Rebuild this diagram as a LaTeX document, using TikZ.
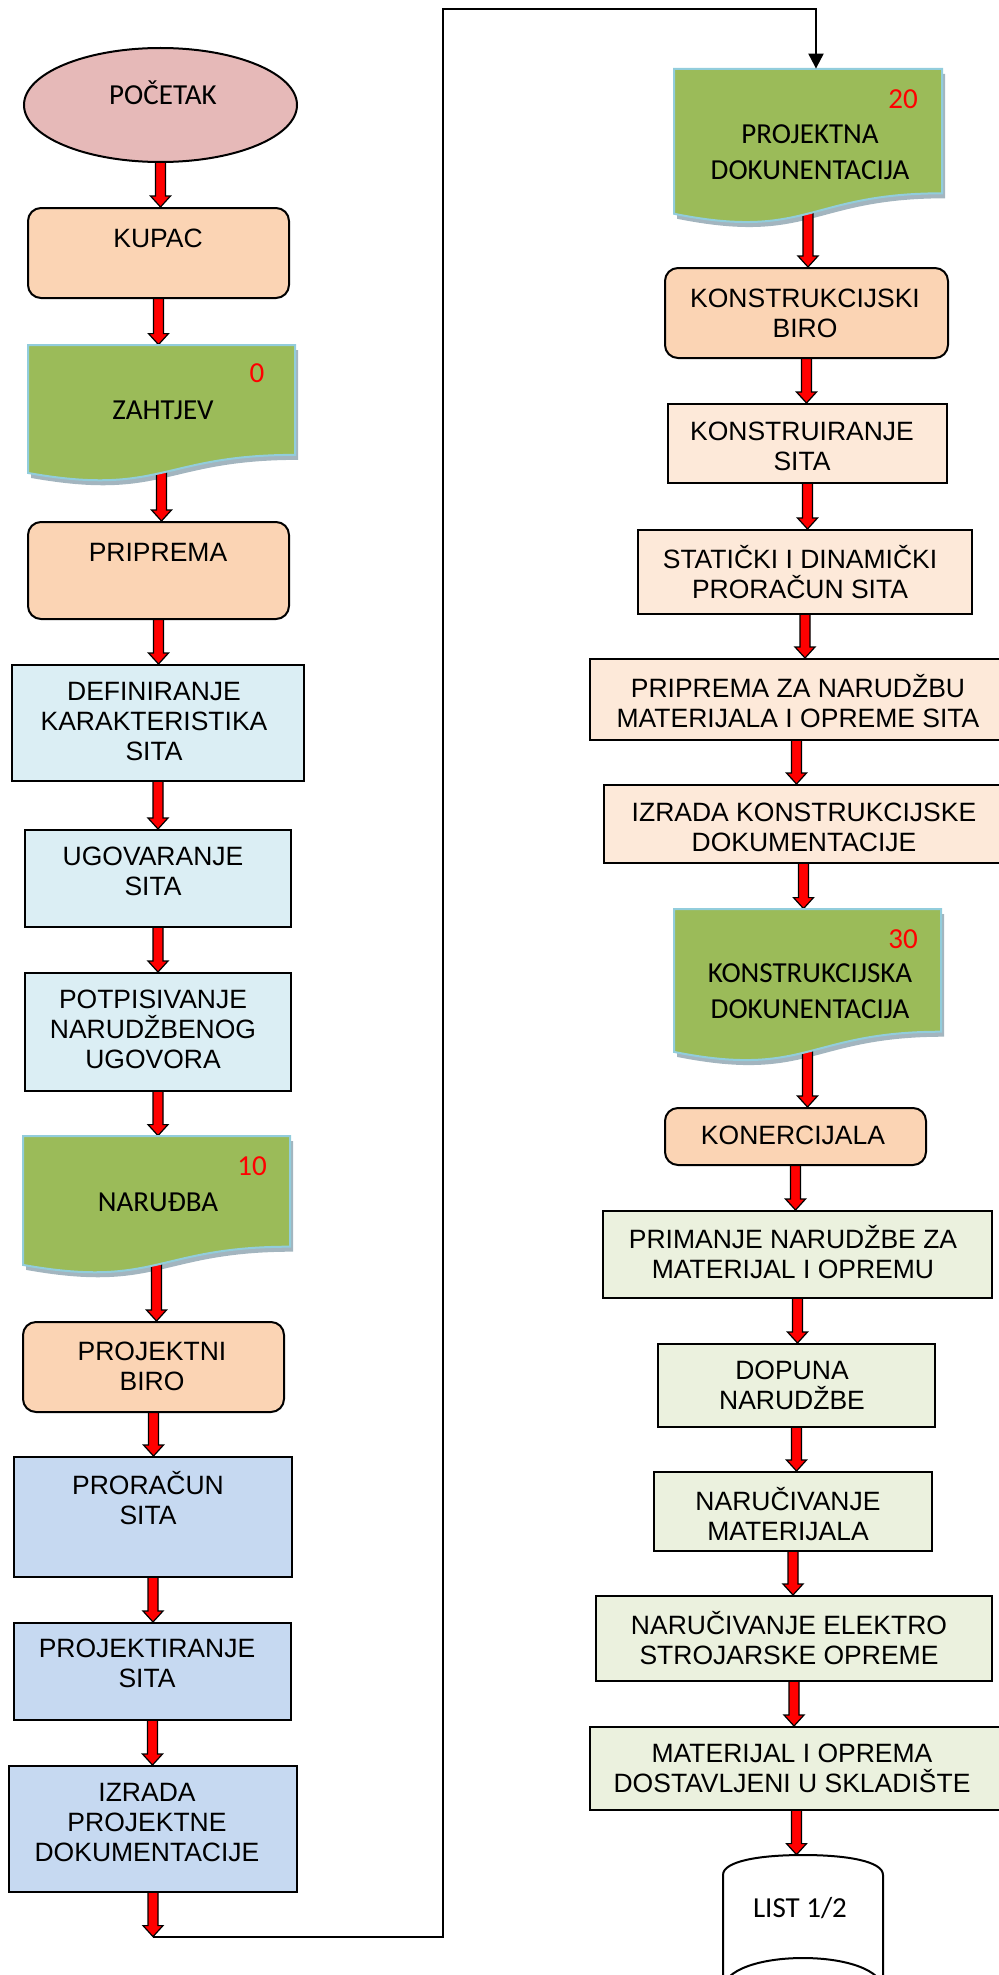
\documentclass[tikz,border=0pt]{standalone}
\usepackage{fontspec}
\setmainfont{Liberation Sans}
\newfontfamily\calfont{Carlito}
\usetikzlibrary{calc,fit,shapes.geometric,arrows.meta}
\pgfdeclarelayer{shadowlayer}
\pgfdeclarelayer{arrowlayer}
\pgfsetlayers{shadowlayer,arrowlayer,main}
\definecolor{ellfill}{HTML}{E6B9B8}
\definecolor{peach}{HTML}{FBD4B4}
\definecolor{cyanl}{HTML}{DBEEF4}
\definecolor{bluel}{HTML}{C6D9F1}
\definecolor{peachl}{HTML}{FDE9D9}
\definecolor{greenl}{HTML}{EBF1DE}
\definecolor{docgreen}{HTML}{9BBB59}
\definecolor{docline}{HTML}{92CDDC}
\definecolor{docshade}{HTML}{A3B5BF}
\tikzset{
 outl/.style={draw=black, line width=1pt, inner sep=0pt},
 rbox/.style={outl, rounded corners=6.5pt, fill=peach},
 cbox/.style={outl, fill=cyanl},
 bbox/.style={outl, fill=bluel},
 pbox/.style={outl, fill=peachl},
 gbox/.style={outl, fill=greenl},
 atext/.style={font=\fontsize{13.25}{15}\selectfont, align=center, inner sep=0pt},
 ctext/.style={font=\calfont\fontsize{14.5}{18}\selectfont, align=center, inner sep=0pt},
 numtext/.style={ctext, text=red},
 redarrow/.style={draw=black, fill=red, line width=0.6pt, line join=miter},
 docstyle/.style={draw=docline, fill=docgreen, line width=1pt},
 docshadow/.style={fill=docshade},
 conn/.style={draw=black, line width=1pt, -{Triangle[width=7.5pt,length=7.5pt]}},
 hidden/.style={inner sep=0pt, minimum size=0pt},
}
% red block arrow from source centre down to target north
\newcommand{\redarr}[2]{%
 \begin{pgfonlayer}{arrowlayer}
 \draw[redarrow] let \p1=(#1.center), \p2=(#2.north) in
  (\x1-2.5pt,\y1) -- (\x1-2.5pt,\y2+5.5pt) -- (\x1-5pt,\y2+5.5pt) -- (\x1,\y2)
  -- (\x1+5pt,\y2+5.5pt) -- (\x1+2.5pt,\y2+5.5pt) -- (\x1+2.5pt,\y1) -- cycle;
 \end{pgfonlayer}}
% document shape: name, x1, y1, x2, h
\newcommand{\docnode}[5]{%
 \pgfmathsetmacro{\dxm}{(#2+#4)/2}%
 \pgfmathsetmacro{\dyr}{#3+0.802*#5}%
 \pgfmathsetmacro{\dyc}{#3+1.1075*#5}%
 \pgfmathsetmacro{\dyl}{#3+0.934*#5}%
 \pgfmathsetmacro{\dyb}{#3+#5}%
 \node[hidden, fit={(#2,#3) (#4,\dyb)}] (#1) {};
 \begin{pgfonlayer}{shadowlayer}
 \fill[docshadow, shift={(3,5)}] (#2,#3) -- (#4,#3) -- (#4,\dyr)
   .. controls (\dxm,\dyr) and (\dxm,\dyc) .. (#2,\dyl) -- cycle;
 \end{pgfonlayer}
 \draw[docstyle] (#2,#3) -- (#4,#3) -- (#4,\dyr)
   .. controls (\dxm,\dyr) and (\dxm,\dyc) .. (#2,\dyl) -- cycle;
}
\begin{document}
\begin{tikzpicture}[x=0.5pt,y=-0.5pt]
\useasboundingbox (0,0) rectangle (999,1975);

% ---------- left column ----------
\node[ellipse, draw=black, line width=1pt, fill=ellfill, minimum width=136.5pt, minimum height=57pt, inner sep=0pt] (poc) at (160.5,105) {};
\node[ctext] (t-poc) at (163,93) {POČETAK};

\node[rbox, fit={(28,208) (289,298)}] (kupac) {};
\node[atext] (t-kupac) at (158,238) {KUPAC};

\docnode{zah}{28}{345}{295}{137}
\node[numtext] (n-zah) at (257,373) {0};
\node[ctext] (t-zah) at (163,410) {ZAHTJEV};

\node[rbox, fit={(28,522) (289,619)}] (prip) {};
\node[atext] (t-prip) at (158,552) {PRIPREMA};

\node[cbox, fit={(12,665) (304,781)}] (def) {};
\node[atext] (t-def) at (154,721.5) {DEFINIRANJE\\KARAKTERISTIKA\\SITA};

\node[cbox, fit={(25,830) (291,927)}] (ugo) {};
\node[atext] (t-ugo) at (153,871) {UGOVARANJE\\SITA};

\node[cbox, fit={(25,973) (291,1091)}] (pot) {};
\node[atext] (t-pot) at (153,1029) {POTPISIVANJE\\NARUDŽBENOG\\UGOVORA};

\docnode{nar}{23}{1136}{290}{138}
\node[numtext] (n-nar) at (252,1166) {10};
\node[ctext] (t-nar) at (158,1202) {NARUĐBA};

\node[rbox, fit={(23,1322) (284,1412)}] (pbiro) {};
\node[atext] (t-pbiro) at (152,1366) {PROJEKTNI\\BIRO};

\node[bbox, fit={(14,1457) (292,1577)}] (pror) {};
\node[atext] (t-pror) at (148,1498) {PRORAČUN\\SITA};

\node[bbox, fit={(14,1623) (291,1720)}] (projs) {};
\node[atext] (t-projs) at (147,1663) {PROJEKTIRANJE\\SITA};

\node[bbox, fit={(9,1766) (297,1892)}] (izr) {};
\node[atext] (t-izr) at (147,1822) {IZRADA\\PROJEKTNE\\DOKUMENTACIJE};

\node[hidden] (c1) at (153,1937) {};

% ---------- right column ----------
\docnode{pdoc}{674}{69}{942}{155}
\node[numtext] (n-pdoc) at (903,99) {20};
\node[ctext] (t-pdoc) at (810,152) {PROJEKTNA\\DOKUNENTACIJA};

\node[rbox, fit={(665,268) (948,358)}] (kbiro) {};
\node[atext] (t-kbiro) at (805,313) {KONSTRUKCIJSKI\\BIRO};

\node[pbox, fit={(668,404) (947,483)}] (ksita) {};
\node[atext] (t-ksita) at (802,446) {KONSTRUIRANJE\\SITA};

\node[pbox, fit={(638,530) (972,614)}] (stat) {};
\node[atext] (t-stat) at (800,572) {STATIČKI I DINAMIČKI\\PRORAČUN SITA};

\node[pbox, fit={(590,659) (1003,740)}] (pza) {};
\node[atext] (t-pza) at (798,701) {PRIPREMA ZA NARUDŽBU\\MATERIJALA I OPREME SITA};

\node[pbox, fit={(604,785) (1003,863)}] (ikd) {};
\node[atext] (t-ikd) at (804,827) {IZRADA KONSTRUKCIJSKE\\DOKUMENTACIJE};

\docnode{kdoc}{674}{909}{941}{153}
\node[numtext] (n-kdoc) at (903,939) {30};
\node[ctext] (t-kdoc) at (810,991.5) {KONSTRUKCIJSKA\\DOKUNENTACIJA};

\node[rbox, fit={(665,1108) (926,1165)}] (koner) {};
\node[atext] (t-koner) at (793,1135) {KONERCIJALA};

\node[gbox, fit={(603,1211) (992,1298)}] (prim) {};
\node[atext] (t-prim) at (793,1252.5) {PRIMANJE NARUDŽBE ZA\\MATERIJAL I OPREMU};

\node[gbox, fit={(658,1344) (935,1427)}] (dop) {};
\node[atext] (t-dop) at (792,1385.5) {DOPUNA\\NARUDŽBE};

\node[gbox, fit={(654,1472) (932,1551)}] (narm) {};
\node[atext] (t-narm) at (788,1514) {NARUČIVANJE\\MATERIJALA};

\node[gbox, fit={(596,1596) (992,1681)}] (nel) {};
\node[atext] (t-nel) at (789,1638) {NARUČIVANJE ELEKTRO\\STROJARSKE OPREME};

\node[gbox, fit={(590,1727) (1003,1810)}] (mat) {};
\node[atext] (t-mat) at (792,1768) {MATERIJAL I OPREMA\\DOSTAVLJENI U SKLADIŠTE};

\node[hidden, fit={(723,1855) (883,1990)}] (listn) {};
\draw[draw=black, fill=white, line width=1pt]
  (723,1995) -- (723,1875) .. controls (723,1861) and (760,1855) .. (803,1855)
  .. controls (846,1855) and (883,1861) .. (883,1875) -- (883,1995);
\draw[draw=black, line width=1pt]
  (723,1990) .. controls (723,1970) and (760,1958) .. (803,1958)
  .. controls (846,1958) and (883,1970) .. (883,1990);
\node[ctext] (t-list) at (800,1908) {LIST 1/2};

% ---------- red arrows ----------
\redarr{poc}{kupac}
\redarr{kupac}{zah}
\redarr{zah}{prip}
\redarr{prip}{def}
\redarr{def}{ugo}
\redarr{ugo}{pot}
\redarr{pot}{nar}
\redarr{nar}{pbiro}
\redarr{pbiro}{pror}
\redarr{pror}{projs}
\redarr{projs}{izr}
\redarr{izr}{c1}
\redarr{pdoc}{kbiro}
\redarr{kbiro}{ksita}
\redarr{ksita}{stat}
\redarr{stat}{pza}
\redarr{pza}{ikd}
\redarr{ikd}{kdoc}
\redarr{kdoc}{koner}
\redarr{koner}{prim}
\redarr{prim}{dop}
\redarr{dop}{narm}
\redarr{narm}{nel}
\redarr{nel}{mat}
\redarr{mat}{listn}

% ---------- black connector ----------
\coordinate (k1) at (443,1937);
\coordinate (k2) at (443,9);
\coordinate (k3) at (816,9);
\draw[conn] (c1.center) -- (k1) -- (k2) -- (k3) -- (k3 |- pdoc.north);
\end{tikzpicture}
\end{document}
